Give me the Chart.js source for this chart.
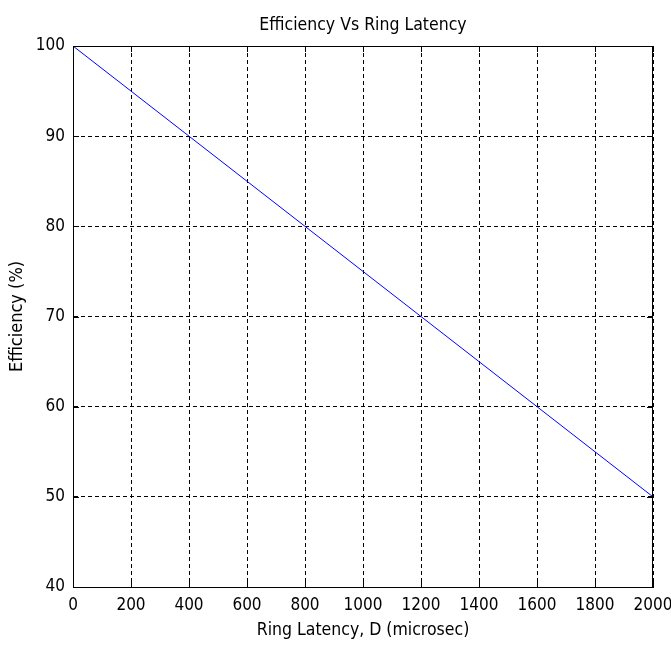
<!DOCTYPE html>
<html>
<head>
<meta charset="utf-8">
<script src="https://cdn.jsdelivr.net/npm/chart.js@4/dist/chart.umd.min.js"></script>
<style>
  html, body { margin: 0; padding: 0; background: #fff; }
  #wrap { width: 671px; height: 645px; }
</style>
</head>
<body>
<div id="wrap"><canvas id="chart" width="671" height="645"></canvas></div>
<script>
// values
const latency = [0, 200, 400, 600, 800, 1000, 1200, 1400, 1600, 1800, 2000];
const efficiency = [100, 95, 90, 85, 80, 75, 70, 65, 60, 55, 50];
const xTicks = [0, 200, 400, 600, 800, 1000, 1200, 1400, 1600, 1800, 2000];
const yTicks = [40, 50, 60, 70, 80, 90, 100];

const narrow = "'DejaVu Sans Condensed', 'Liberation Sans Narrow', 'Liberation Sans', sans-serif";

// box round the plot area + short solid ticks pointing inward (matlab look)
const boxTicks = {
  id: "boxTicks",
  afterDraw(chart) {
    const { ctx, chartArea: a, scales } = chart;
    const len = 6;
    ctx.save();
    ctx.strokeStyle = "#000";
    ctx.lineWidth = 1;
    ctx.beginPath();
    xTicks.forEach((v) => {
      const px = Math.round(scales.x.getPixelForValue(v)) + 0.5;
      ctx.moveTo(px, a.bottom);
      ctx.lineTo(px, a.bottom - len);
      ctx.moveTo(px, a.top);
      ctx.lineTo(px, a.top + len);
    });
    yTicks.forEach((v) => {
      const py = Math.round(scales.y.getPixelForValue(v)) + 0.5;
      ctx.moveTo(a.left, py);
      ctx.lineTo(a.left + len, py);
      ctx.moveTo(a.right, py);
      ctx.lineTo(a.right - len, py);
    });
    ctx.stroke();
    ctx.strokeRect(Math.round(a.left) + 0.5, Math.round(a.top) + 0.5,
      Math.round(a.right - a.left) - 1, Math.round(a.bottom - a.top));
    ctx.restore();
  },
};

const chart = new Chart(document.getElementById("chart"), {
  type: "line",
  data: {
    datasets: [
      {
        data: latency.map((x, i) => ({ x: x, y: efficiency[i] })),
        borderColor: "#0000FF",
        borderWidth: 1,
        pointRadius: 0,
        tension: 0,
        fill: false,
      },
    ],
  },
  options: {
    responsive: false,
    animation: false,
    layout: { padding: { left: 0, right: 18, top: 0, bottom: 0 } },
    plugins: {
      legend: { display: false },
      tooltip: { enabled: false },
      title: {
        display: true,
        text: "Efficiency Vs Ring Latency",
        fullSize: false,
        color: "#000",
        font: { family: narrow, size: 17.5, weight: "normal" },
        padding: { top: 15, bottom: 10 },
      },
    },
    scales: {
      x: {
        type: "linear",
        min: 0,
        max: 2000,
        afterBuildTicks: (s) => { s.ticks = xTicks.map((v) => ({ value: v })); },
        afterFit: (s) => { s.height = 58; s.paddingLeft = 0; s.paddingRight = 0; },
        grid: { color: "#000", lineWidth: 1, drawTicks: false },
        border: { display: true, color: "#000", dash: [4, 3] },
        ticks: {
          color: "#000",
          padding: 8,
          maxRotation: 0,
          autoSkip: false,
          font: { family: narrow, size: 17 },
          callback: (v) => String(v),
        },
        title: {
          display: true,
          text: "Ring Latency, D (microsec)",
          color: "#000",
          font: { family: narrow, size: 17.5 },
          padding: { top: 2, bottom: 4 },
        },
      },
      y: {
        type: "linear",
        min: 40,
        max: 100,
        afterBuildTicks: (s) => { s.ticks = yTicks.map((v) => ({ value: v })); },
        afterFit: (s) => { s.width = 73; s.paddingTop = 0; s.paddingBottom = 0; },
        grid: { color: "#000", lineWidth: 1, drawTicks: false },
        border: { display: true, color: "#000", dash: [4, 3] },
        ticks: {
          color: "#000",
          padding: 8,
          autoSkip: false,
          font: { family: narrow, size: 17 },
          callback: (v) => String(v),
        },
        title: {
          display: true,
          text: "Efficiency (%)",
          color: "#000",
          font: { family: narrow, size: 18 },
          padding: { top: 7, bottom: 0 },
        },
      },
    },
  },
  plugins: [boxTicks],
});
</script>
</body>
</html>
